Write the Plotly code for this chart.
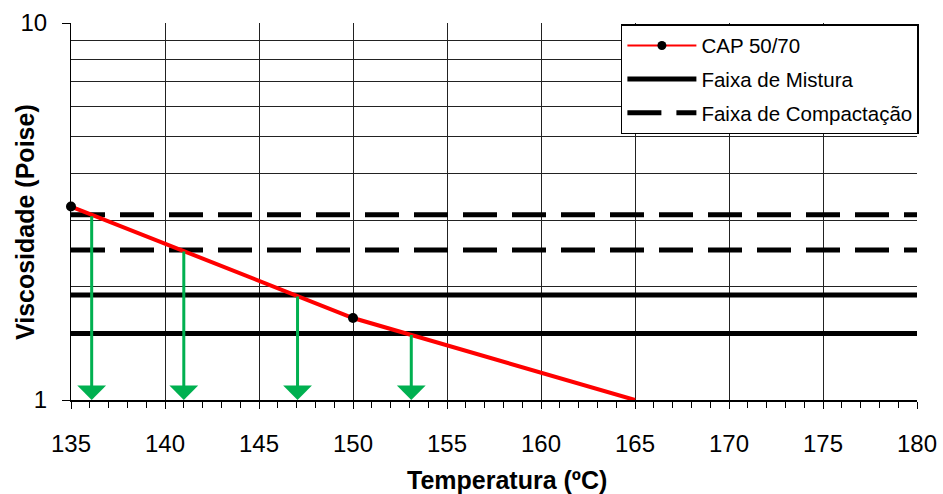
import math
import plotly.graph_objects as go

# ---- data ----
temps = [135, 150, 165]
visc = [3.26, 1.65, 1.0]
measured_temps = [135, 150]
measured_visc = [3.26, 1.65]

mix_range = [1.5, 1.9]          # Faixa de Mistura (Poise)
comp_range = [2.5, 3.1]         # Faixa de Compactação (Poise)
x_span = [135, 180]

arrow_temps = [136.1, 141.0, 147.05, 153.1]
arrow_visc = [3.1, 2.5, 1.9, 1.5]

x_ticks = [135, 140, 145, 150, 155, 160, 165, 170, 175, 180]
y_ticks = [1, 10]
y_minor = [2, 3, 4, 5, 6, 7, 8, 9]

FONT = "Liberation Sans, Arial, sans-serif"


def band(vals):
    xs, ys = [], []
    for v in vals:
        xs += [x_span[0], x_span[1], None]
        ys += [v, v, None]
    return xs, ys


fig = go.Figure()

mx, my = band(mix_range)
cx, cy = band(comp_range)

fig.add_trace(go.Scatter(x=mx, y=my, mode="lines", name="Faixa de Mistura",
                         line=dict(color="black", width=5), legendgroup="m",
                         legendrank=2, connectgaps=False))
fig.add_trace(go.Scatter(x=cx, y=cy, mode="lines", name="Faixa de Compactação",
                         line=dict(color="black", width=5, dash="34px,15px"),
                         legendgroup="c", legendrank=3, connectgaps=False))
fig.add_trace(go.Scatter(x=temps, y=visc, mode="lines", showlegend=False,
                         line=dict(color="#FF0000", width=4)))
fig.add_trace(go.Scatter(x=measured_temps, y=measured_visc, mode="markers",
                         showlegend=False, cliponaxis=False,
                         marker=dict(color="black", size=10)))
fig.add_trace(go.Scatter(x=[None], y=[None], mode="lines+markers", name="CAP 50/70",
                         line=dict(color="#FF0000", width=2),
                         marker=dict(color="black", size=9),
                         legendgroup="cap", legendrank=1))

for t, v in zip(arrow_temps, arrow_visc):
    fig.add_annotation(x=t, y=0, ax=t, ay=math.log10(v), xref="x", yref="y",
                       axref="x", ayref="y", text="", showarrow=True,
                       arrowhead=1, arrowsize=1.6, arrowwidth=3,
                       arrowcolor="#00B050", standoff=0, startstandoff=0)

fig.add_annotation(text="<b>Viscosidade (Poise)</b>", textangle=-90,
                   xref="paper", yref="paper", x=-0.0544, y=0.472,
                   xanchor="center", yanchor="middle",
                   showarrow=False, font=dict(size=25, family=FONT, color="black"))
fig.add_annotation(text="<b>Temperatura (ºC)</b>",
                   xref="paper", yref="paper", x=0.515, y=-0.212,
                   xanchor="center", yanchor="middle",
                   showarrow=False, font=dict(size=25, family=FONT, color="black"))

fig.update_xaxes(range=x_span, tickvals=x_ticks, ticks="outside", ticklen=7,
                 tickcolor="black", tickwidth=1, showline=True, linecolor="black",
                 linewidth=2, showgrid=True, gridcolor="#222", gridwidth=1,
                 zeroline=False, tickfont=dict(size=24, family=FONT, color="black"),
                 ticklabelstandoff=14, automargin=False,
                 minor=dict(dtick=1, tick0=135, ticks="outside", ticklen=6,
                            tickcolor="black", showgrid=False))
fig.update_yaxes(type="log", range=[0, 1], tickvals=y_ticks,
                 ticktext=[str(v) for v in y_ticks], ticks="outside", ticklen=8,
                 tickcolor="black", showline=True, linecolor="black", linewidth=1,
                 showgrid=False, zeroline=False,
                 tickfont=dict(size=24, family=FONT, color="black"),
                 ticklabelstandoff=10, automargin=False,
                 minor=dict(tickvals=y_minor, showgrid=True, gridcolor="#222",
                            gridwidth=1, ticks=""))

fig.update_layout(width=943, height=494, margin=dict(l=71, r=26, t=23, b=94),
                  paper_bgcolor="white", plot_bgcolor="white",
                  font=dict(family=FONT, color="black"),
                  showlegend=True,
                  legend=dict(x=0.650, y=0.997, xanchor="left", yanchor="top",
                              bgcolor="white", bordercolor="black", borderwidth=1.5,
                              font=dict(size=20.5, family=FONT, color="black"),
                              tracegroupgap=4, itemwidth=69))

fig.write_html("out.html", config={"displayModeBar": False},
               post_script="document.body.style.margin='0';document.body.style.overflow='hidden';")
